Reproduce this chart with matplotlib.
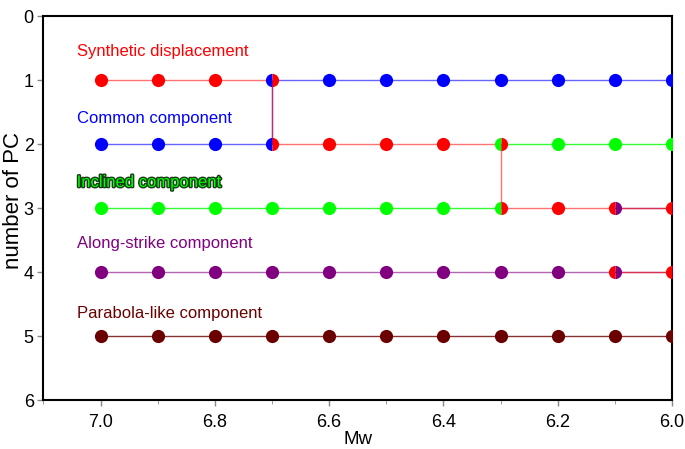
import matplotlib
matplotlib.use("Agg")
import matplotlib.pyplot as plt
import matplotlib.patheffects as pe
from matplotlib.ticker import MultipleLocator

plt.rcParams["font.family"] = ["Liberation Sans", "DejaVu Sans"]

# Mw values sampled along the x axis
mw = [7.0, 6.9, 6.8, 6.7, 6.6, 6.5, 6.4, 6.3, 6.2, 6.1, 6.0]

# PC rank of each component at each Mw (full markers)
synthetic_pc = [1, 1, 1, None, 2, 2, 2, None, 3, None, None]
common_pc = [2, 2, 2, None, 1, 1, 1, 1, 1, 1, 1]
inclined_pc = [3, 3, 3, 3, 3, 3, 3, None, 2, 2, 2]
along_pc = [4, 4, 4, 4, 4, 4, 4, 4, 4, None, None]
parabola_pc = [5, 5, 5, 5, 5, 5, 5, 5, 5, 5, 5]

# ranks where two components swap: (Mw, PC, left colour, right colour)
swap_mw = [6.7, 6.7, 6.3, 6.3, 6.1, 6.1, 6.0, 6.0]
swap_pc = [1, 2, 2, 3, 3, 4, 3, 4]
swap_left = ["blue", "blue", "lime", "lime", "red", "red", "red", "red"]
swap_right = ["red", "red", "red", "red", "purple", "purple", "purple", "purple"]

# line paths (Mw, PC) for each component
synthetic_path = ([7.0, 6.7, 6.7, 6.3, 6.3, 6.0], [1, 1, 2, 2, 3, 3])
synthetic_path2 = ([6.1, 6.0], [4, 4])
common_path = ([7.0, 6.7, 6.7, 6.0], [2, 2, 1, 1])
inclined_path = ([7.0, 6.3], [3, 3])
inclined_path2 = ([6.3, 6.0], [2, 2])
along_path = ([7.0, 6.0], [4, 4])
along_path2 = ([6.1, 6.0], [3, 3])
parabola_path = ([7.0, 6.0], [5, 5])

labels = ["Synthetic displacement", "Common component", "Inclined component",
          "Along-strike component", "Parabola-like component"]
label_y = [0.55, 1.6, 2.6, 3.55, 4.65]
colors = ["red", "blue", "lime", "purple", "#6b0000"]

fig = plt.figure(figsize=(6.85, 4.49), dpi=100)
ax = fig.add_axes([0.0635, 0.1091, 0.9175, 0.8552])

ms = 9.5
# lines
ax.plot(*inclined_path, color="lime", lw=1, alpha=0.8, zorder=2)
ax.plot(*inclined_path2, color="lime", lw=1, alpha=0.8, zorder=2)
ax.plot(*along_path, color="purple", lw=1, alpha=0.6, zorder=2)
ax.plot(*along_path2, color="purple", lw=1, alpha=0.6, zorder=2)
ax.plot(*parabola_path, color="#6b0000", lw=1, alpha=0.8, zorder=2)
ax.plot(*common_path, color="blue", lw=1, alpha=0.6, zorder=2)
ax.plot(*synthetic_path, color="red", lw=1, alpha=0.55, zorder=3)
ax.plot(*synthetic_path2, color="red", lw=1, alpha=0.55, zorder=3)

# full markers
for pcs, c in zip([synthetic_pc, common_pc, inclined_pc, along_pc, parabola_pc], colors):
    xs = [m for m, p in zip(mw, pcs) if p is not None]
    ys = [p for p in pcs if p is not None]
    ax.plot(xs, ys, "o", color=c, ms=ms, mec="none", zorder=4)

# half markers where components swap
for x, y, cl, cr in zip(swap_mw, swap_pc, swap_left, swap_right):
    ax.plot([x], [y], "o", ms=ms, fillstyle="left", color=cl,
            markerfacecoloralt=cr, mec="none", zorder=4)

# component labels
for t, y, c in zip(labels, label_y, colors):
    txt = ax.text(7.042, y, t, color=c, fontsize=12, va="center", ha="left")
    if c == "lime":
        txt.set_path_effects([pe.withStroke(linewidth=2, foreground="#1a3a1a")])

ax.set_xlim(7.1, 6.0)
ax.set_ylim(6, 0)
ax.xaxis.set_minor_locator(MultipleLocator(0.1))
ax.set_xticks([7.0, 6.8, 6.6, 6.4, 6.2, 6.0])
ax.set_xticklabels(["7.0", "6.8", "6.6", "6.4", "6.2", "6.0"])
ax.set_yticks(range(7))
ax.tick_params(axis="both", labelsize=13, direction="out", length=4,
               color="#888888", width=1, pad=3)
ax.tick_params(axis="x", pad=6)
ax.tick_params(axis="x", which="minor", length=3, color="#888888")
for s in ax.spines.values():
    s.set_linewidth(1.5)
ax.set_xlabel("Mw", fontsize=13.5, labelpad=0)
ax.set_ylabel("number of PC", fontsize=16)
ax.yaxis.set_label_coords(-0.031, 0.52)

fig.savefig("out.png", dpi=100)
